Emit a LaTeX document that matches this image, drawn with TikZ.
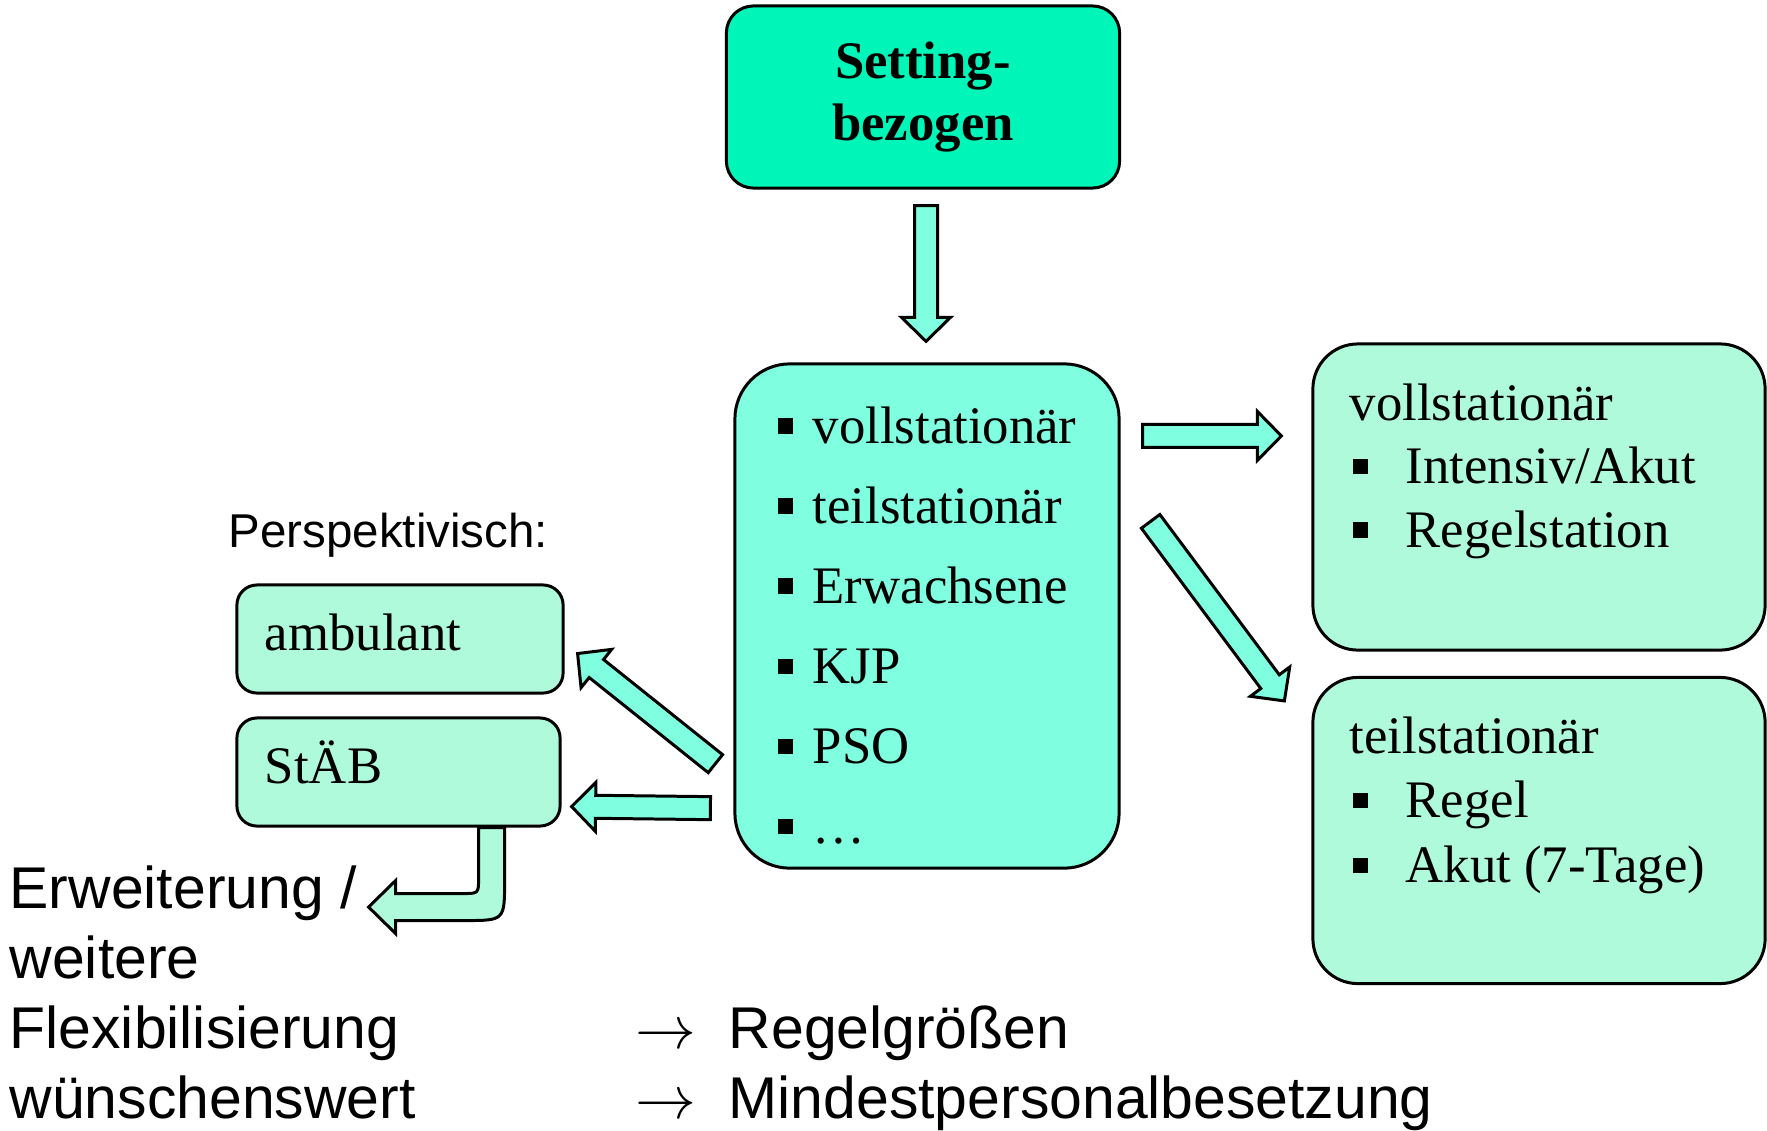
\documentclass[tikz,border=0pt]{standalone}
\usepackage{fontspec}
\setmainfont{Liberation Serif}
\setsansfont{Liberation Sans}
\usetikzlibrary{calc}
\definecolor{setgreen}{RGB}{0,245,184}
\definecolor{aqua}{RGB}{127,255,224}
\definecolor{mint}{RGB}{176,250,220}
\tikzstyle{setbox}=[rectangle,draw=black,fill=setgreen,line width=0.85pt,minimum width=3.93cm,minimum height=1.82cm,rounded corners=0.27cm,align=center,font=\fontsize{15}{17.9}\selectfont\bfseries]
\tikzstyle{listbox}=[rectangle,draw=black,fill=aqua,line width=0.85pt,minimum width=3.84cm,minimum height=5.04cm,rounded corners=0.55cm]
\tikzstyle{subbox}=[rectangle,draw=black,fill=mint,line width=0.85pt,minimum width=4.52cm,minimum height=3.06cm,rounded corners=0.45cm]
\tikzstyle{perbox}=[rectangle,draw=black,fill=mint,line width=0.85pt,minimum height=1.08cm,rounded corners=0.2cm,inner xsep=0.28cm,text height=0.4cm,text depth=0.18cm,align=left,font=\fontsize{15}{18}\selectfont]
\tikzstyle{listitem}=[anchor=base west,inner sep=0pt,font=\fontsize{15}{18}\selectfont]
\tikzstyle{bigsans}=[anchor=base west,inner sep=0pt,font=\fontsize{16.75}{20}\selectfont\sffamily]
\tikzstyle{barrow}=[draw=black,fill=aqua,line width=0.85pt]
\newcommand{\bsq}{\rule[0.095cm]{0.15cm}{0.15cm}}
\def\shw{0.115cm}
\def\hhw{0.245cm}
\def\hlen{0.24cm}
% block arrow from tail #2 to tip #3
\newcommand{\blockarrow}[3][]{%
    \coordinate (ba-t) at #2;
    \coordinate (ba-p) at #3;
    \coordinate (ba-h) at ($(ba-p)!\hlen!(ba-t)$);
    \draw[barrow,#1] ($(ba-t)!\shw!90:(ba-p)$) -- ($(ba-h)!\shw!90:(ba-p)$) -- ($(ba-h)!\hhw!90:(ba-p)$)
        -- (ba-p) -- ($(ba-h)!\hhw!-90:(ba-p)$) -- ($(ba-h)!\shw!-90:(ba-p)$) -- ($(ba-t)!\shw!-90:(ba-p)$) -- cycle;
}

\begin{document}
\begin{tikzpicture}[x=0.01cm,y=-0.01cm]
    \useasboundingbox (0,0) rectangle (1767,1130);

    \node[setbox] (setting) at (923,97) {Setting-\\bezogen};

    \node[listbox] (list) at (927,616) {};
    \foreach \txt [count=\i] in {vollstationär,teilstationär,Erwachsene,KJP,PSO,\ldots} {
        \node[listitem] (li\i) at (777,363+80*\i) {\makebox[0.35cm][l]{\bsq}\txt};
    };

    \node[subbox] (voll) at (1539,497) {};
    \node[listitem] (vt) at (1349,420) {vollstationär};
    \foreach \txt [count=\i] in {Intensiv/Akut,Regelstation} {
        \node[listitem] (vi\i) at (1352,420+63.5*\i) {\makebox[0.53cm][l]{\bsq}\txt};
    };

    \node[subbox] (teil) at (1539,830.5) {};
    \node[listitem] (tt) at (1349,753) {teilstationär};
    \foreach \txt [count=\i] in {Regel,{Akut (7-Tage)}} {
        \node[listitem] (ti\i) at (1352,753+64.5*\i) {\makebox[0.53cm][l]{\bsq}\txt};
    };

    \node[bigsans,font=\fontsize{13.5}{16}\selectfont\sffamily] (persp) at (228,547) {Perspektivisch:};
    \node[perbox,text width=2.70cm] (amb) at (400,639) {ambulant};
    \node[perbox,text width=2.67cm] (stab) at (398.5,772) {StÄB};

    \foreach \txt [count=\i] in {Erweiterung /,weitere,Flexibilisierung,wünschenswert} {
        \node[bigsans] (fx\i) at (9,838+70*\i) {\txt};
    };
    \foreach \txt [count=\i] in {Regelgrößen,Mindestpersonalbesetzung} {
        \node[bigsans] (rg\i) at (635,978+70*\i) {\makebox[0.93cm][l]{$\rightarrow$}\txt};
    };

    \blockarrow{($(setting.south)+(3,16)$)}{($(list.north)+(-1,-21)$)}
    \blockarrow{($(list.north east)+(22,73.5)$)}{($(voll.north west)+(-30,93.5)$)}
    \blockarrow{($(list.north east)+(30,159)$)}{($(teil.north west)+(-27,25)$)}
    \blockarrow{($(list.south west)+(-18,-106)$)}{($(amb.south east)+(13,-41)$)}
    \blockarrow{($(list.south west)+(-23,-61.5)$)}{($(stab.east)+(10,34.5)$)}

    % bent arrow below StAeB
    \begin{scope}[shift={(stab.south east)}]
        \draw[barrow,fill=mint] (-83,0) -- (-83,50) .. controls (-83,66) .. (-99,66) -- (-166,66) -- (-166,53)
            -- (-193,79.5) -- (-166,106) -- (-166,93) -- (-97,93) .. controls (-57,93) .. (-57,53) -- (-57,0) -- cycle;
    \end{scope}
\end{tikzpicture}
\end{document}
